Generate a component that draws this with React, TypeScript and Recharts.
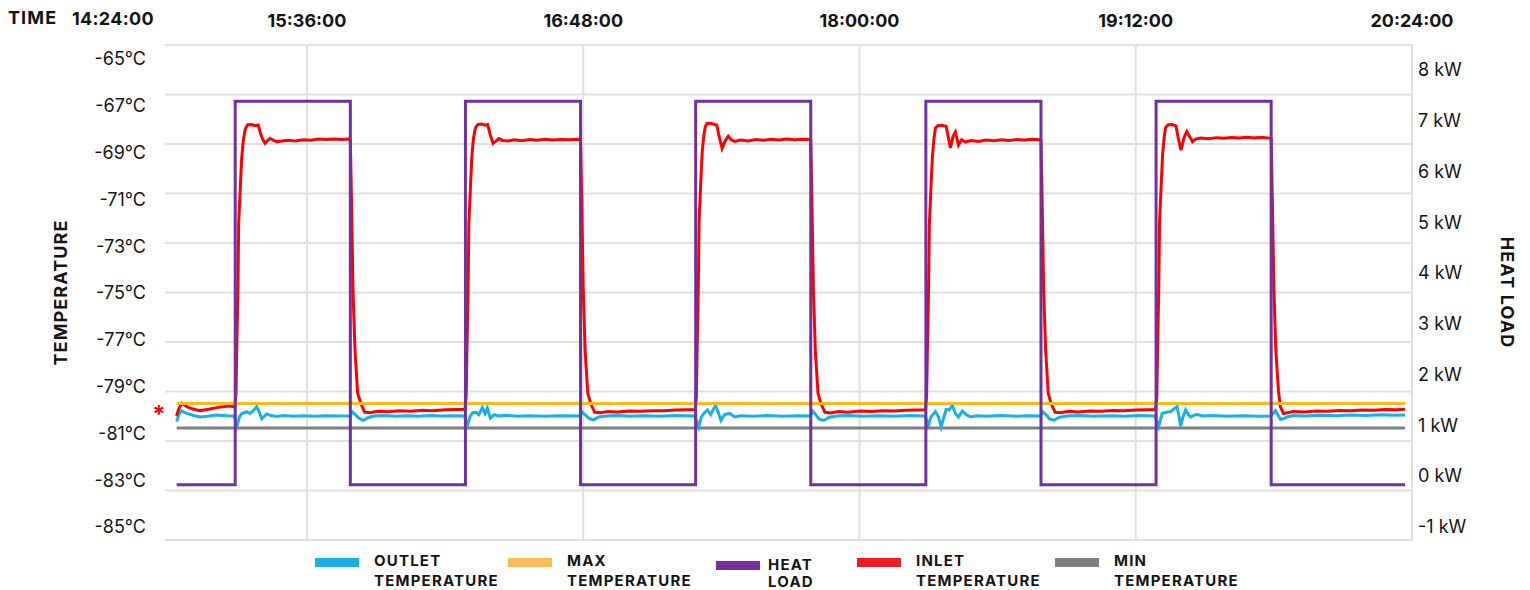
import { CartesianGrid, Legend, Line, LineChart, ReferenceDot, XAxis, YAxis } from "recharts"

// x values are minutes after 14:24:00
const timeTicks = [72, 144, 216, 288, 360]
const timeLabels = ["15:36:00", "16:48:00", "18:00:00", "19:12:00", "20:24:00"]
const startTimeLabel = "14:24:00"
const tempTicks = [-85, -83, -81, -79, -77, -75, -73, -71, -69, -67, -65]
const heatTicks = [-1, 0, 1, 2, 3, 4, 5, 6, 7, 8]
const setpoint = -80

const heatLoad = [
  [38.05, -0.17], [53.3, 7.38], [83.3, -0.17], [113.3, 7.38], [143.3, -0.17], [173.3, 7.38],
  [203.3, -0.17], [233.3, 7.38], [263.3, -0.17], [293.3, 7.38], [323.3, -0.17], [358.2, -0.17],
]

const maxTemp = [[38.05, -79.73], [358.2, -79.73]]
const minTemp = [[38.05, -80.77], [358.2, -80.77]]

const inletTemp = [
  [38.0, -80.26], [38.6, -79.95], [39.4, -79.71], [40.7, -79.86], [42.0, -79.95], [44.1, -80.03], [46.7, -79.96],
  [49.3, -79.88], [51.9, -79.83], [53.2, -79.87],
  [53.5, -79.3], [53.7, -77.4], [54.0, -74.9], [54.2, -72.0], [54.6, -70.6], [55.0, -69.2], [55.4, -68.5],
  [55.9, -68.0], [56.5, -67.82], [57.5, -67.8], [58.5, -67.85], [59.3, -67.82], [59.9, -68.18], [60.5, -68.45],
  [61.1, -68.6], [61.8, -68.48], [62.4, -68.39], [63.2, -68.47], [64.1, -68.53], [65.5, -68.5], [67, -68.47],
  [69, -68.5], [71, -68.45], [73, -68.47], [75, -68.42], [77, -68.44], [79, -68.42], [81, -68.44], [83.0, -68.42],
  [83.3, -68.45], [83.6, -71.0], [84.0, -74.9], [84.5, -77.4], [85.2, -79.27], [86.0, -79.7], [87.0, -80.09],
  [88.5, -80.12], [90.5, -80.06], [93, -80.08], [96, -80.04], [99, -80.06], [102, -80.01], [105, -80.03],
  [108, -79.99], [111, -79.98], [113.2, -79.97],
  [113.5, -79.4], [113.7, -77.4], [114.0, -74.8], [114.2, -72.0], [114.6, -70.5], [115.0, -69.1], [115.4, -68.4],
  [115.9, -67.95], [116.5, -67.8], [117.5, -67.78], [118.5, -67.83], [119.1, -67.8], [119.7, -68.2], [120.5, -68.6],
  [121.2, -68.52], [122, -68.4], [123, -68.48], [124.5, -68.5], [126, -68.45], [128, -68.49], [130, -68.44],
  [132, -68.47], [134, -68.43], [136, -68.46], [138, -68.44], [140, -68.45], [143.0, -68.43],
  [143.3, -68.46], [143.6, -71.0], [144.0, -74.8], [144.5, -77.5], [145.2, -79.3], [146.0, -79.75], [147.0, -80.1],
  [148.5, -80.12], [150.5, -80.07], [153, -80.09], [156, -80.05], [159, -80.06], [162, -80.03], [165, -80.04],
  [168, -80.0], [171, -79.99], [173.2, -79.98],
  [173.5, -79.4], [173.7, -77.3], [174.0, -74.7], [174.2, -71.9], [174.6, -70.4], [175.0, -69.0], [175.4, -68.3],
  [175.8, -67.9], [176.2, -67.76], [177.2, -67.75], [178.2, -67.8], [178.8, -67.82], [179.4, -68.3], [180.2, -68.82],
  [181.0, -68.5], [181.8, -68.3], [182.6, -68.45], [183.5, -68.52], [185, -68.46], [187, -68.5], [189, -68.44],
  [191, -68.47], [193, -68.43], [195, -68.46], [197, -68.42], [199, -68.45], [201, -68.43], [203.0, -68.44],
  [203.3, -68.47], [203.6, -71.1], [204.0, -74.9], [204.5, -77.5], [205.2, -79.3], [206.0, -79.75], [207.0, -80.1],
  [208.5, -80.13], [210.5, -80.07], [213, -80.1], [216, -80.05], [219, -80.07], [222, -80.03], [225, -80.05],
  [228, -80.01], [231, -80.0], [233.2, -79.99],
  [233.5, -79.4], [233.7, -77.4], [234.0, -74.9], [234.2, -72.1], [234.6, -70.6], [235.0, -69.2], [235.4, -68.4],
  [235.8, -67.95], [236.4, -67.85], [237.4, -67.83], [238.6, -67.88], [239.1, -68.3], [239.7, -68.8], [240.4, -68.3],
  [241.0, -68.12], [241.8, -68.68], [242.6, -68.45], [243.6, -68.55], [245, -68.48], [247, -68.52], [249, -68.46],
  [251, -68.49], [253, -68.45], [255, -68.48], [257, -68.44], [259, -68.46], [261, -68.43], [263.0, -68.45],
  [263.3, -68.47], [263.6, -71.0], [264.0, -74.8], [264.5, -77.4], [265.2, -79.3], [266.0, -79.75], [267.0, -80.1],
  [268.5, -80.12], [270.5, -80.06], [273, -80.09], [276, -80.05], [279, -80.06], [282, -80.02], [285, -80.04],
  [288, -80.0], [291, -79.99], [293.2, -79.98],
  [293.5, -79.4], [293.7, -77.3], [294.0, -74.8], [294.2, -72.0], [294.6, -70.5], [295.0, -69.1], [295.4, -68.35],
  [295.8, -67.92], [296.4, -67.82], [297.4, -67.8], [298.5, -67.86], [299.1, -68.4], [299.8, -68.9], [300.6, -68.35],
  [301.3, -68.1], [302.0, -68.3], [302.8, -68.53], [303.6, -68.42], [305, -68.38], [307, -68.41], [309, -68.36],
  [311, -68.39], [313, -68.35], [315, -68.38], [317, -68.34], [319, -68.37], [321, -68.35], [323.0, -68.38],
  [323.3, -68.4], [323.6, -71.0], [324.0, -74.8], [324.5, -77.4], [325.2, -79.2], [325.7, -79.86], [326.5, -80.15],
  [327.5, -80.12], [329, -80.07], [332, -80.09], [335, -80.05], [338, -80.06], [341, -80.02], [344, -80.04],
  [347, -80.0], [350, -80.01], [353, -79.98], [356, -79.99], [358.2, -79.97],
]

const outletTemp = [
  [38.05, -80.5], [38.6, -80.2], [39.3, -80.04], [40.7, -80.15], [42.5, -80.24], [44.1, -80.3], [46, -80.27],
  [48.5, -80.22], [51, -80.25], [53.0, -80.26],
  [53.5, -80.5], [53.8, -80.66], [54.4, -80.3], [55.0, -80.15], [55.7, -80.12], [56.3, -80.07], [57.2, -80.15],
  [58.2, -80.0], [58.9, -79.86], [59.6, -80.1], [60.2, -80.38], [61.5, -80.17], [62.6, -80.24], [64.1, -80.28],
  [66, -80.24], [68.5, -80.27], [71, -80.25], [74, -80.27], [77, -80.25], [80, -80.26], [83.2, -80.25],
  [83.8, -80.08], [84.6, -80.2], [85.5, -80.35], [86.7, -80.45], [88, -80.32], [89.5, -80.26], [92, -80.24],
  [95, -80.27], [98, -80.25], [101, -80.27], [104, -80.24], [107, -80.26], [110, -80.25], [113.0, -80.26],
  [113.5, -80.5], [113.9, -80.62], [114.5, -80.28], [115.2, -80.12], [116.0, -80.1], [116.8, -80.2], [117.7, -79.9],
  [118.4, -80.15], [119.0, -79.92], [119.8, -80.35], [120.8, -80.2], [122, -80.26], [124, -80.23], [127, -80.27],
  [130, -80.25], [134, -80.27], [138, -80.25], [143.2, -80.26],
  [143.8, -80.1], [144.6, -80.22], [145.5, -80.36], [146.7, -80.42], [148, -80.3], [150, -80.26], [153, -80.24],
  [156, -80.27], [160, -80.25], [164, -80.27], [168, -80.24], [173.0, -80.26],
  [173.5, -80.45], [174.1, -80.73], [174.8, -80.3], [175.6, -80.12], [176.4, -80.0], [177.2, -80.2], [178.0, -79.95],
  [178.5, -79.82], [179.2, -80.1], [179.9, -80.45], [180.8, -80.2], [182.2, -80.15], [183.5, -80.3], [185, -80.25],
  [188, -80.27], [192, -80.24], [196, -80.27], [200, -80.25], [203.2, -80.26],
  [203.8, -80.05], [204.6, -80.2], [205.5, -80.4], [206.7, -80.45], [208, -80.32], [210, -80.26], [213, -80.24],
  [217, -80.27], [221, -80.25], [225, -80.27], [229, -80.24], [233.0, -80.26],
  [233.5, -80.45], [233.9, -80.73], [234.6, -80.3], [235.8, -80.07], [236.6, -80.3], [237.3, -80.73], [238.0, -80.3],
  [238.6, -79.98], [239.4, -80.0], [240.2, -79.8], [241.0, -80.15], [241.8, -80.3], [242.8, -80.05], [243.8, -80.2],
  [244.9, -80.3], [246.5, -80.25], [249, -80.27], [253, -80.24], [257, -80.27], [260, -80.25], [263.2, -80.26],
  [263.8, -80.08], [264.6, -80.2], [265.5, -80.38], [266.7, -80.44], [268, -80.32], [270, -80.26], [273, -80.24],
  [277, -80.27], [281, -80.25], [285, -80.27], [289, -80.24], [293.0, -80.26],
  [293.5, -80.45], [294.0, -80.7], [294.9, -80.15], [296.0, -80.1], [297.1, -80.07], [298.0, -79.95], [298.8, -79.86],
  [299.3, -80.3], [299.7, -80.7], [300.3, -80.3], [301.0, -80.0], [301.7, -80.2], [302.3, -80.31], [303.2, -80.22],
  [304.0, -80.2], [305.5, -80.26], [308, -80.24], [312, -80.27], [316, -80.25], [320, -80.27], [323.2, -80.26],
  [324.4, -80.04], [325.0, -80.2], [325.7, -80.4], [326.5, -80.38], [327.5, -80.3], [329, -80.24], [332, -80.26],
  [336, -80.23], [340, -80.25], [344, -80.22], [348, -80.24], [352, -80.21], [355, -80.23], [358.2, -80.22],
]

const legendLabels = [
  ["OUTLET", "TEMPERATURE"],
  ["MAX", "TEMPERATURE"],
  ["HEAT", "LOAD"],
  ["INLET", "TEMPERATURE"],
  ["MIN", "TEMPERATURE"],
]

const FONT = "Inter, 'Noto Sans', sans-serif"
const INK = "#141414"
const COLORS = {
  outlet: "#17b0ea",
  max: "#ffb81c",
  heat: "#7030a0",
  inlet: "#ff0000",
  min: "#808080",
}
const legendColors = ["#17b0ea", "#ffbb55", "#7a2e9e", "#ee1c25", "#808080"]
const legendWidths = [193, 208, 141, 198, 200]

const toPoints = (rows: number[][]) => rows.map(([t, v]) => ({ t, v }))

function AxisTitle(props: any) {
  const { viewBox, text, side } = props
  if (!viewBox) return null
  const cx = side === "left" ? viewBox.x + 5 : viewBox.x + viewBox.width - 5
  const cy = viewBox.y + viewBox.height / 2
  return (
    <text
      x={cx}
      y={cy}
      textAnchor="middle"
      dominantBaseline="central"
      transform={`rotate(${side === "left" ? -90 : 90} ${cx} ${cy})`}
      fill={INK}
      fontFamily={FONT}
      fontSize={18}
      fontWeight={700}
      letterSpacing={1.1}
    >
      {text}
    </text>
  )
}

function TimeCaption(props: any) {
  const { viewBox } = props
  if (!viewBox) return null
  return (
    <g fill={INK} fontFamily={FONT} fontWeight={700} fontSize={18}>
      <text x={viewBox.x - 157} y={15.5} letterSpacing={1.1}>TIME</text>
      <text x={viewBox.x - 93} y={16.8} letterSpacing={0.3}>{startTimeLabel}</text>
    </g>
  )
}

function Asterisk(props: any) {
  const { cx, cy } = props
  return (
    <text x={cx - 6} y={cy + 13} textAnchor="middle" fill="#ff0000" fontFamily={FONT} fontSize={24} fontWeight={700}>
      *
    </text>
  )
}

function ChartLegend() {
  return (
    <div style={{ display: "flex", paddingLeft: 307, paddingTop: 11, fontFamily: FONT, color: INK }}>
      {legendLabels.map((lines, i) => {
        const tight = i === 2
        return (
          <div key={lines.join(" ")} style={{ display: "flex", alignItems: "flex-start", width: legendWidths[i] }}>
            <div
              style={{
                width: 44,
                height: 9,
                marginTop: tight ? 9.5 : 6.5,
                marginRight: tight ? 8 : 15,
                background: legendColors[i],
                flex: "none",
              }}
            />
            <div
              style={{
                fontSize: 15,
                fontWeight: 700,
                letterSpacing: 1.2,
                lineHeight: tight ? "17px" : "20px",
                marginTop: tight ? 4.5 : 0,
                whiteSpace: "nowrap",
              }}
            >
              {lines.map((l) => (
                <div key={l}>{l}</div>
              ))}
            </div>
          </div>
        )
      })}
    </div>
  )
}

export default function App() {
  return (
    <div style={{ width: 1514, height: 582 }}>
      <LineChart width={1514} height={582} margin={{ top: 7, right: 10, bottom: 0, left: 47 }}>
        <CartesianGrid
          stroke="#e1e1e1"
          strokeWidth={2}
          syncWithTicks
          horizontalCoordinatesGenerator={({ offset }: any) =>
            Array.from({ length: 11 }, (_, i) => offset.top + (i * offset.height) / 10)
          }
        />
        <XAxis
          orientation="top"
          type="number"
          dataKey="t"
          domain={[35, 360]}
          allowDataOverflow
          ticks={timeTicks}
          tickFormatter={(v: number) => timeLabels[timeTicks.indexOf(v)] ?? ""}
          height={30}
          axisLine={false}
          tickLine={false}
          tickSize={0}
          tickMargin={18}
          tick={{ fill: INK, fontSize: 18, fontWeight: 700, fontFamily: FONT }}
          label={<TimeCaption />}
        />
        <YAxis
          type="number"
          domain={[-85.56, -64.4]}
          allowDataOverflow
          ticks={tempTicks}
          tickFormatter={(v: number) => `${v}°C`}
          width={110}
          axisLine={false}
          tickLine={false}
          tickSize={0}
          tickMargin={19}
          tick={{ fill: INK, fontSize: 18, fontFamily: FONT }}
          label={<AxisTitle side="left" text="TEMPERATURE" />}
        />
        <YAxis
          yAxisId="heat"
          orientation="right"
          type="number"
          domain={[-1.26, 8.49]}
          allowDataOverflow
          ticks={heatTicks}
          tickFormatter={(v: number) => `${v} kW`}
          width={100}
          axisLine={false}
          tickLine={false}
          tickSize={0}
          tickMargin={6}
          tick={{ fill: INK, fontSize: 18, fontFamily: FONT, textAnchor: "start" }}
          label={<AxisTitle side="right" text="HEAT LOAD" />}
        />
        <Legend
          verticalAlign="bottom"
          content={() => <ChartLegend />}
          wrapperStyle={{ left: 0, bottom: 0, width: 1514, height: 50 }}
        />
        <Line data={toPoints(minTemp)} dataKey="v" name="MIN TEMPERATURE" stroke={COLORS.min} strokeWidth={3} dot={false} isAnimationActive={false} />
        <Line data={toPoints(outletTemp)} dataKey="v" name="OUTLET TEMPERATURE" stroke={COLORS.outlet} strokeWidth={3} dot={false} isAnimationActive={false} />
        <Line data={toPoints(inletTemp)} dataKey="v" name="INLET TEMPERATURE" stroke={COLORS.inlet} strokeWidth={3} dot={false} isAnimationActive={false} />
        <Line data={toPoints(maxTemp)} dataKey="v" name="MAX TEMPERATURE" stroke={COLORS.max} strokeWidth={3} dot={false} isAnimationActive={false} />
        <Line
          yAxisId="heat"
          type="stepAfter"
          data={toPoints(heatLoad)}
          dataKey="v"
          name="HEAT LOAD"
          stroke={COLORS.heat}
          strokeWidth={3}
          dot={false}
          isAnimationActive={false}
        />
        <ReferenceDot x={35} y={setpoint} r={0} shape={<Asterisk />} />
      </LineChart>
    </div>
  )
}
